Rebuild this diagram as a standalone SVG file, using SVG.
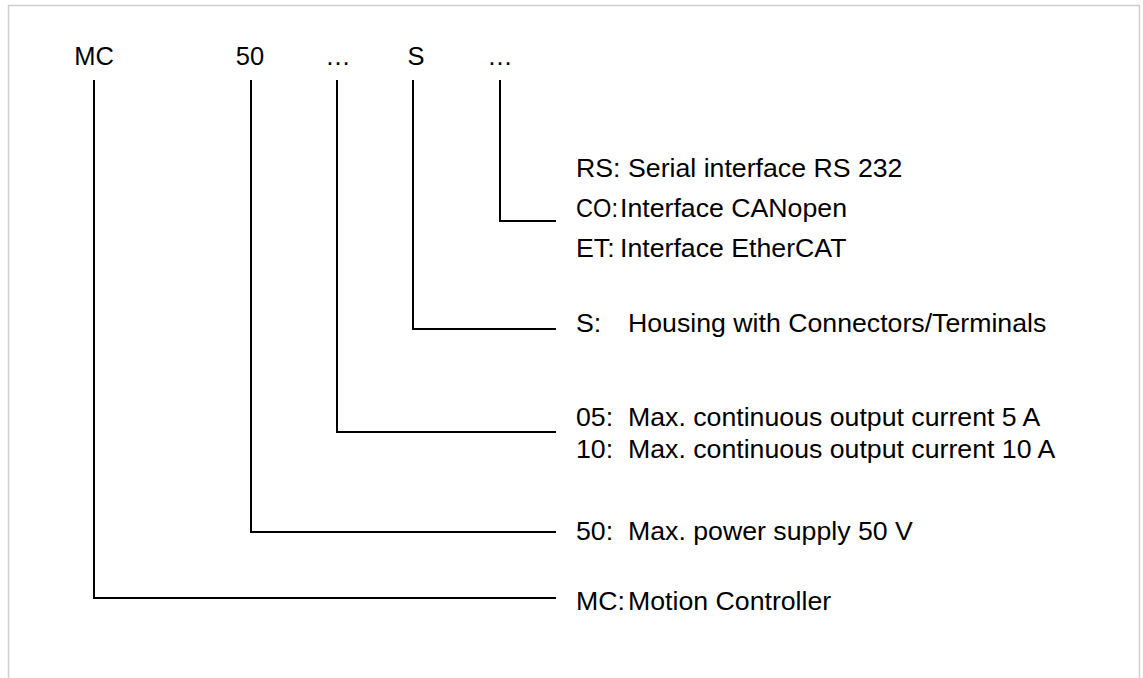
<svg xmlns="http://www.w3.org/2000/svg" width="1143" height="678" viewBox="0 0 1143 678">
<style>
.t{font-family:"Liberation Sans",Arial,sans-serif;font-size:26.7px;fill:#000}
.h{font-family:"Liberation Sans",Arial,sans-serif;font-size:25.5px;fill:#000;text-anchor:middle}
.c{fill:none;stroke:#000;stroke-width:2}
</style>
<rect width="1143" height="678" fill="#fff"/>
<path d="M8.5,678 V5.5 H1139.5 V678" fill="none" stroke="#cfcfcf" stroke-width="1.5"/>
<g id="header">
<text class="h" x="94" y="65">MC</text>
<text class="h" x="250" y="65">50</text>
<text class="h" x="338" y="65">…</text>
<text class="h" x="416" y="65">S</text>
<text class="h" x="500" y="65">…</text>
</g>
<g id="connectors">
<path class="c" d="M500,80 V221 H556"/>
<path class="c" d="M413,80 V329 H556"/>
<path class="c" d="M337,80 V432 H556"/>
<path class="c" d="M251,80 V532 H556"/>
<path class="c" d="M94,80 V598 H556"/>
</g>
<g id="interface">
<text class="t" y="177"><tspan x="576">RS:</tspan><tspan x="628">Serial interface RS 232</tspan></text>
<text class="t" y="217"><tspan x="576" textLength="42" lengthAdjust="spacingAndGlyphs">CO:</tspan><tspan x="620">Interface CANopen</tspan></text>
<text class="t" y="257"><tspan x="576">ET:</tspan><tspan x="620">Interface EtherCAT</tspan></text>
</g>
<g id="housing">
<text class="t" y="332"><tspan x="576">S:</tspan><tspan x="628">Housing with Connectors/Terminals</tspan></text>
</g>
<g id="current">
<text class="t" y="426"><tspan x="576">05:</tspan><tspan x="628">Max. continuous output current 5 A</tspan></text>
<text class="t" y="458"><tspan x="576">10:</tspan><tspan x="628">Max. continuous output current 10 A</tspan></text>
</g>
<g id="supply">
<text class="t" y="540"><tspan x="576">50:</tspan><tspan x="628">Max. power supply 50 V</tspan></text>
</g>
<g id="controller">
<text class="t" y="610"><tspan x="576">MC:</tspan><tspan x="628">Motion Controller</tspan></text>
</g>
</svg>
